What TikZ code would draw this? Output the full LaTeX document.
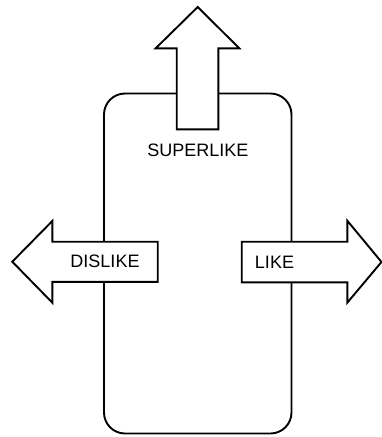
\documentclass[tikz,border=0pt]{standalone}
\usepackage{fontspec}
\setmainfont{Liberation Sans}
\begin{document}
\begin{tikzpicture}[x=1pt,y=-1pt,
  outline/.style={draw=black,line width=1.9pt,line join=miter},
  arrowshape/.style={outline,fill=white},
  label/.style={font=\fontsize{18}{21}\selectfont,inner sep=0pt,anchor=base}]
\useasboundingbox (0,0) rectangle (382,437);
% card
\draw[outline,rounded corners=21pt] (104,93.5) rectangle (291.5,433.5);
% swipe up
\draw[arrowshape] (176.7,129.3) -- (176.7,48.3) -- (155.7,48.3) -- (197.7,7)
  -- (239.3,48.3) -- (218.3,48.3) -- (218.3,129.3) -- cycle;
% swipe left
\draw[arrowshape] (157.7,241.7) -- (52.3,241.7) -- (52.3,221) -- (12.3,261.7)
  -- (52.3,302.7) -- (52.3,281.9) -- (157.7,281.9) -- cycle;
% swipe right
\draw[arrowshape] (241.7,241.7) -- (347.3,241.7) -- (347.3,220.7) -- (381.5,262)
  -- (347.3,302.7) -- (347.3,282.3) -- (241.7,282.3) -- cycle;
\node[label] (superlike) at (197.8,156) {SUPERLIKE};
\node[label] (dislike) at (105,267.7) {DISLIKE};
\node[label] (like) at (274.5,268.5) {LIKE};
\end{tikzpicture}
\end{document}
